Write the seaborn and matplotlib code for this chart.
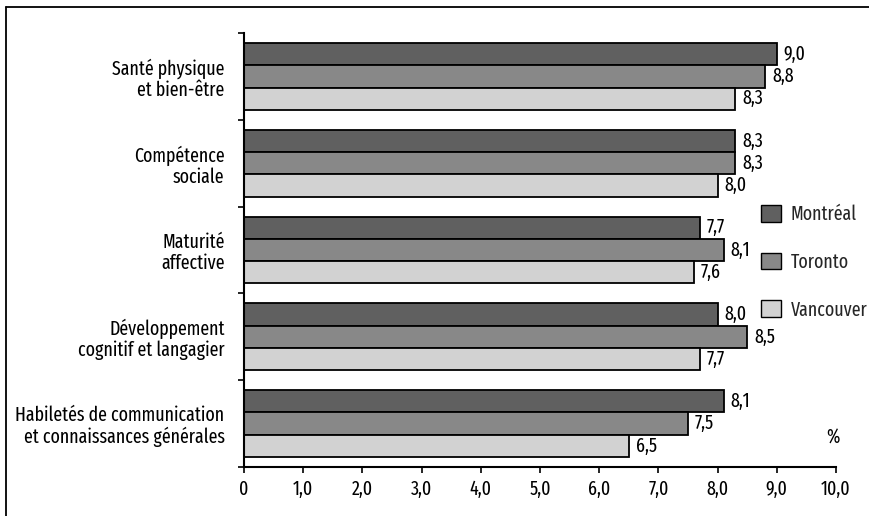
import matplotlib
matplotlib.use("Agg")
import matplotlib.pyplot as plt
from matplotlib import font_manager
from matplotlib.lines import Line2D
from matplotlib.patches import Patch
from matplotlib.ticker import FixedLocator, FuncFormatter
import numpy as np
import pandas as pd
import seaborn as sns

# Domains of child development
categories = [
    "Santé physique\net bien-être",
    "Compétence\nsociale",
    "Maturité\naffective",
    "Développement\ncognitif et langagier",
    "Habiletés de communication\net connaissances générales",
]
cities = ["Montréal", "Toronto", "Vancouver"]
montreal = [9.0, 8.3, 7.7, 8.0, 8.1]
toronto = [8.8, 8.3, 8.1, 8.5, 7.5]
vancouver = [8.3, 8.0, 7.6, 7.7, 6.5]
x_ticks = [0, 1, 2, 3, 4, 5, 6, 7, 8, 9, 10]
colors = ["#606060", "#888888", "#d2d2d2"]

df = pd.DataFrame({
    "domaine": categories * 3,
    "ville": [c for c in cities for _ in categories],
    "valeur": montreal + toronto + vancouver,
})

sns.set_theme(style="white")
available = {f.name for f in font_manager.fontManager.ttflist}
family = [f for f in ["Fira Sans Extra Condensed", "Fira Sans Condensed",
                      "Roboto Condensed", "DejaVu Sans"] if f in available]
plt.rcParams["font.family"] = family
FS = 14

fig = plt.figure(figsize=(8.69, 5.16), dpi=100)
W, H = 869, 516
ax = fig.add_axes([244 / W, 1 - 467 / H, (836 - 244) / W, (467 - 33) / H])

sns.barplot(
    data=df, y="domaine", x="valeur", hue="ville", order=categories,
    hue_order=cities, palette=colors, orient="h", width=0.77,
    edgecolor="black", linewidth=1.3, saturation=1, legend=False, ax=ax,
)

fmt = lambda v: f"{v:.1f}".replace(".", ",")
for cont in ax.containers:
    ax.bar_label(cont, labels=[fmt(b.get_width()) for b in cont],
                 padding=5, fontsize=FS, color="black")

ax.set_xlim(0, 10)
ax.set_ylim(len(categories) - 0.5, -0.5)
ax.set_xlabel("")
ax.set_ylabel("")

ax.xaxis.set_major_locator(FixedLocator(x_ticks))
ax.xaxis.set_major_formatter(FuncFormatter(lambda v, p: "0" if v == 0 else fmt(v)))
ax.tick_params(axis="x", direction="out", length=4, width=1.2, color="black",
               labelsize=FS, labelcolor="black", pad=5, bottom=True)
ax.yaxis.set_minor_locator(FixedLocator(np.arange(-0.5, len(categories), 1.0)))
ax.tick_params(axis="y", which="major", length=0, pad=14, labelsize=FS,
               labelcolor="black")
ax.tick_params(axis="y", which="minor", direction="out", length=4, width=1.2,
               color="black", left=True)
for lab in ax.get_yticklabels():
    lab.set_horizontalalignment("right")
    lab.set_multialignment("right")
    lab.set_linespacing(1.1)

for side in ["top", "right"]:
    ax.spines[side].set_visible(False)
for side in ["left", "bottom"]:
    ax.spines[side].set_color("black")
    ax.spines[side].set_linewidth(1.5)

ax.text(0.995, 0.069, "%", transform=ax.transAxes, ha="center", va="center",
        fontsize=FS, color="black")

handles = [Patch(facecolor=c, edgecolor="black", linewidth=1.0) for c in colors]
fig.legend(handles, cities, loc="center left",
           bbox_to_anchor=(751 / W, 1 - 262 / H), frameon=False, fontsize=FS,
           handlelength=1.05, handleheight=0.95, handletextpad=0.5,
           labelspacing=1.45, borderpad=0)

# frame around the figure
fig.add_artist(Line2D([6 / W, 6 / W], [0, 1 - 7 / H], transform=fig.transFigure,
                      color="black", linewidth=1.3))
fig.add_artist(Line2D([6 / W, 1], [1 - 7 / H, 1 - 7 / H], transform=fig.transFigure,
                      color="black", linewidth=1.3))

fig.savefig("out.png", dpi=100, facecolor="white")
